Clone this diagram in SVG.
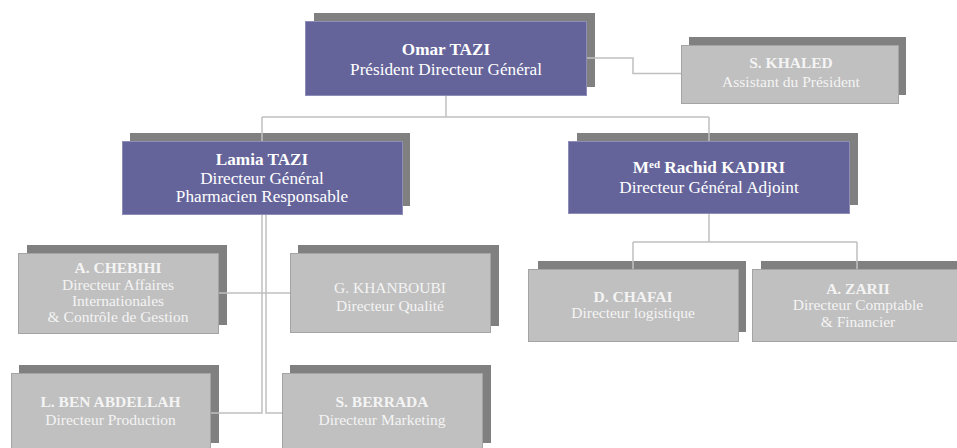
<svg xmlns="http://www.w3.org/2000/svg" width="957" height="448" viewBox="0 0 957 448">
<style>
.sh{fill:#808080}
.pu{fill:#65649a;stroke:#8e8db8;stroke-width:1}
.gr{fill:#c0c0c0;stroke:#a4a4a4;stroke-width:1}
.tp{font-family:"Liberation Serif","DejaVu Serif",serif;font-size:17.2px;fill:#ffffff;text-anchor:middle}
.tg{font-family:"Liberation Serif","DejaVu Serif",serif;font-size:15.5px;fill:#f4f4f4;text-anchor:middle}
.b{font-weight:bold}
.cn{fill:none;stroke:#c0c0c0;stroke-width:1.5}
</style>
<rect width="957" height="448" fill="#ffffff"/>
<g id="omar">
<rect class="sh" x="314" y="13" width="281" height="74"/>
<rect class="pu" x="305.5" y="21.5" width="281" height="74"/>
<text class="tp"><tspan class="b" x="446" y="54.5">Omar TAZI</tspan><tspan x="446" y="74.5">Président Directeur Général</tspan></text>
</g>
<g id="khaled">
<rect class="sh" x="689" y="37" width="217" height="58"/>
<rect class="gr" x="681.5" y="45.5" width="217" height="58"/>
<text class="tg"><tspan class="b" x="791" y="68">S. KHALED</tspan><tspan x="791" y="87">Assistant du Président</tspan></text>
</g>
<g id="lamia">
<rect class="sh" x="130" y="133" width="280" height="73"/>
<rect class="pu" x="122.5" y="141.5" width="280" height="73"/>
<text class="tp"><tspan class="b" x="262" y="165">Lamia TAZI</tspan><tspan x="262" y="183.5">Directeur Général</tspan><tspan x="262" y="202">Pharmacien Responsable</tspan></text>
</g>
<g id="kadiri">
<rect class="sh" x="577" y="133" width="281" height="72"/>
<rect class="pu" x="568.5" y="141.5" width="281" height="72"/>
<text class="tp"><tspan class="b" x="709" y="173">M<tspan font-size="11px" dy="-5">ed</tspan><tspan dy="5"> Rachid KADIRI</tspan></tspan><tspan x="709" y="193">Directeur Général Adjoint</tspan></text>
</g>
<g id="chebihi">
<rect class="sh" x="27" y="245" width="200" height="80"/>
<rect class="gr" x="18.5" y="253.5" width="200" height="80"/>
<text class="tg"><tspan class="b" x="118" y="273">A. CHEBIHI</tspan><tspan x="118" y="289.5">Directeur Affaires</tspan><tspan x="118" y="306">Internationales</tspan><tspan x="118" y="322">&amp; Contrôle de Gestion</tspan></text>
</g>
<g id="khanboubi">
<rect class="sh" x="298" y="245" width="201" height="81"/>
<rect class="gr" x="290.5" y="253.5" width="200" height="79"/>
<text class="tg"><tspan x="390" y="293">G. KHANBOUBI</tspan><tspan x="390" y="311">Directeur Qualité</tspan></text>
</g>
<g id="chafai">
<rect class="sh" x="538" y="261" width="208" height="71"/>
<rect class="gr" x="528.5" y="269.5" width="210" height="72"/>
<text class="tg"><tspan class="b" x="633" y="302">D. CHAFAI</tspan><tspan x="633" y="318">Directeur logistique</tspan></text>
</g>
<g id="zarii">
<rect class="sh" x="761" y="261" width="210" height="71"/>
<rect class="gr" x="752.5" y="269.5" width="212" height="72"/>
<text class="tg"><tspan class="b" x="858" y="294">A. ZARII</tspan><tspan x="858" y="310">Directeur Comptable</tspan><tspan x="858" y="327">&amp; Financier</tspan></text>
</g>
<g id="benabdellah">
<rect class="sh" x="19" y="365" width="200" height="78"/>
<rect class="gr" x="11.5" y="373.5" width="199" height="80"/>
<text class="tg"><tspan class="b" x="110.5" y="407">L. BEN ABDELLAH</tspan><tspan x="110.5" y="425">Directeur Production</tspan></text>
</g>
<g id="berrada">
<rect class="sh" x="290" y="365" width="201" height="78"/>
<rect class="gr" x="282.5" y="373.5" width="200" height="80"/>
<text class="tg"><tspan class="b" x="382" y="407">S. BERRADA</tspan><tspan x="382" y="425">Directeur Marketing</tspan></text>
</g>
<g id="connectors">
<path class="cn" d="M587,58 H633 V73.5 H681"/>
<path class="cn" d="M446,96 V117 M262,117 H709 M262,117 V141 M709,117 V141"/>
<path class="cn" d="M709,214 V242 M633,242 H857 M633,242 V269 M857,242 V269"/>
<path class="cn" d="M262,215 V413 H211 M266,215 V413 H282 M219,293 H290"/>
</g>
</svg>
